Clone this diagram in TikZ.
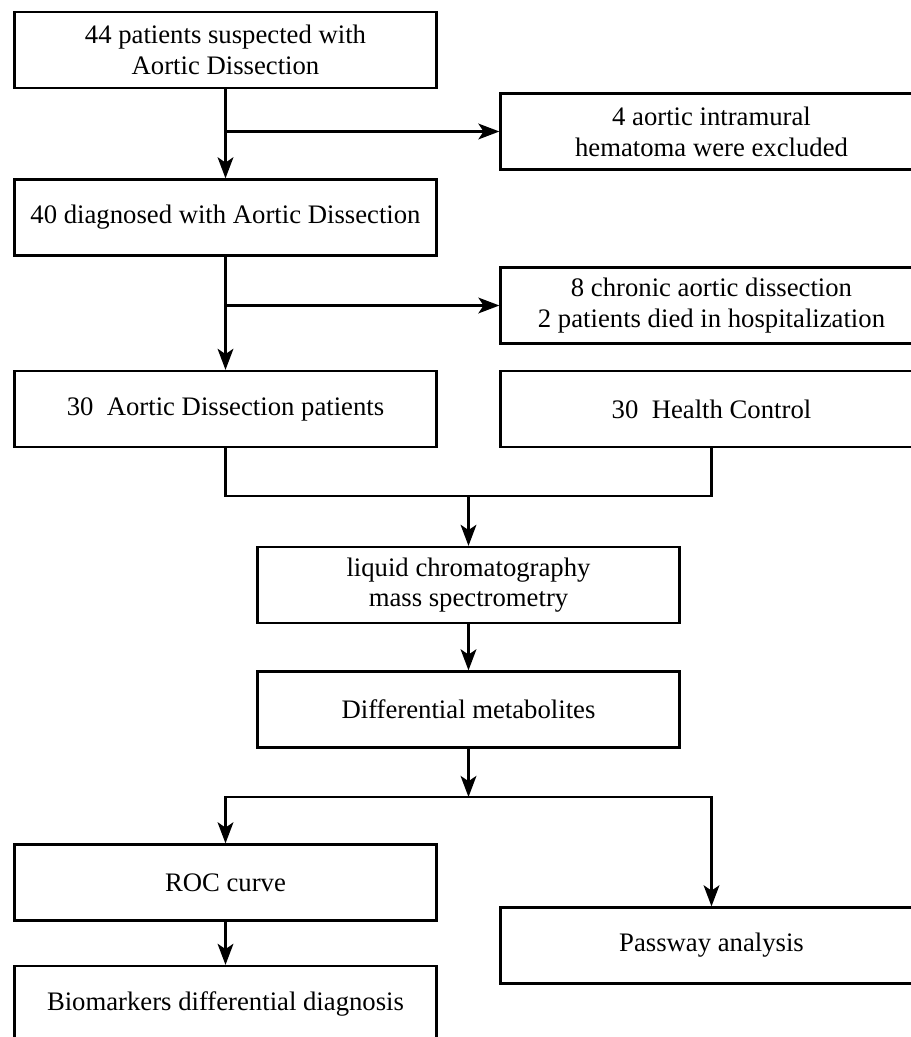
\documentclass[tikz,border=0pt]{standalone}
\usepackage{fontspec}
\setmainfont{Liberation Serif}
\usetikzlibrary{arrows.meta}

\begin{document}
\begin{tikzpicture}[x=0.02cm, y=-0.02cm]
 \tikzstyle{flowbox}=[rectangle, draw, text=black, line width=1.3pt, align=center,
   minimum width=8.44cm, minimum height=1.52cm, inner sep=0pt,
   font=\fontsize{15.2}{17.5}\selectfont]
 \tikzstyle{flow}=[-{Stealth[length=12pt, width=9pt, inset=3pt]}, line width=1.2pt]
 \useasboundingbox (0,0) rectangle (911,1037);
 \clip (0,0) rectangle (911,1037);
 %
 \node[flowbox] (B44) at (225.5, 50) {44 patients suspected with\\Aortic Dissection};
 \node[flowbox] (B4) at (711.5, 131.5) {4 aortic intramural\\hematoma were excluded};
 \node[flowbox] (B40) at (225.5, 217.5) {40 diagnosed with Aortic Dissection};
 \node[flowbox] (B8) at (711.5, 305.5) {8 chronic aortic dissection\\2 patients died in hospitalization};
 %
 \node[flowbox] (AD30) at (225.5, 409) {30~ Aortic Dissection patients};
 \node[flowbox] (HC30) at (711.5, 409) {30~ Health Control};
 %
 \node[flowbox] (LCMS) at (468.5, 585) {liquid chromatography\\mass spectrometry};
 \node[flowbox] (DM) at (468.5, 709.5) {Differential metabolites};
 %
 \node[flowbox] (ROC) at (225.5, 882.5) {ROC curve};
 \node[flowbox] (PW) at (711.5, 945.5) {Passway analysis};
 \node[flowbox] (BIO) at (225.5, 1004) {Biomarkers differential diagnosis};
 %
 \coordinate (J1) at (B44.south |- B4.west);
 \coordinate (J2) at (B40.south |- B8.west);
 \coordinate (J3) at (468.5, 496);
 \coordinate (J4) at (468.5, 797);
 %%
 \draw[flow] (B44)--(B40);
 \draw[flow] (J1)--(B4.west);
 \draw[flow] (B40)--(AD30);
 \draw[flow] (J2)--(B8.west);
 \draw[line width=1.2pt] (AD30.south) |- (J3) -| (HC30.south);
 \draw[flow] (J3)--(LCMS);
 \draw[flow] (LCMS)--(DM);
 \draw[flow] (DM)--(J4);
 \draw[flow] (J4) -| (ROC.north);
 \draw[flow] (J4) -| (PW.north);
 \draw[flow] (ROC)--(BIO);
\end{tikzpicture}
\end{document}
